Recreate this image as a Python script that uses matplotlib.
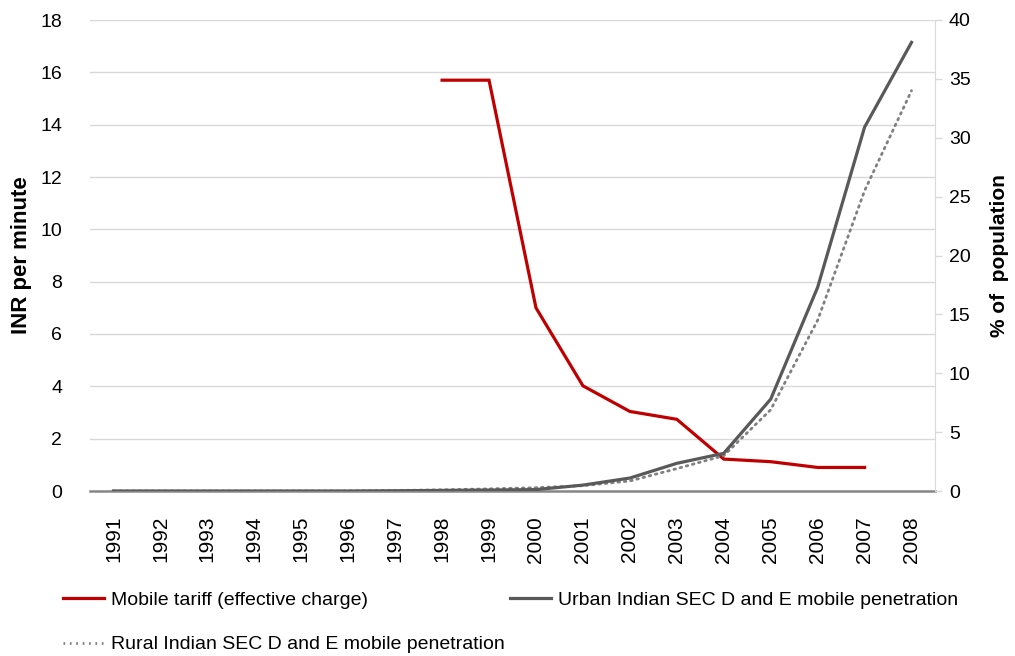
import numpy as np
import matplotlib.pyplot as plt
from matplotlib.lines import Line2D

plt.rcParams['font.family'] = ['Liberation Sans', 'DejaVu Sans']

years = [str(y) for y in range(1991, 2009)]

# INR per minute, only reported from 1998 to 2007
tariff_years = ['1998', '1999', '2000', '2001', '2002', '2003', '2004', '2005', '2006', '2007']
tariff = [15.7, 15.7, 7.0, 4.02, 3.04, 2.74, 1.22, 1.12, 0.9, 0.9]

# % of population
urban = [0.0, 0.0, 0.0, 0.0, 0.0, 0.0, 0.02, 0.05, 0.08, 0.12, 0.5, 1.1, 2.35, 3.2, 7.8, 17.3, 30.9, 38.1]
rural = [0.0, 0.0, 0.0, 0.0, 0.0, 0.0, 0.04, 0.1, 0.18, 0.28, 0.45, 0.85, 1.9, 3.0, 6.9, 14.5, 25.5, 34.0]

red = '#C00000'
dark = '#595959'
light = '#808080'
grid = '#D9D9D9'
dots = (0, (0.6, 1.7))

fig = plt.figure(figsize=(10.15, 6.56), dpi=100)
ax = fig.add_axes([90/1015, 1-491/656, 845/1015, 471/656])
ax2 = ax.twinx()

x = np.arange(len(years))
tx = np.array([years.index(t) for t in tariff_years])

ax.plot(tx, tariff, color=red, lw=2.3, solid_joinstyle='miter', zorder=3)
ax2.plot(x, urban, color=dark, lw=2.3, zorder=3)
ax2.plot(x, rural, color=light, lw=2.0, linestyle=dots,
         dash_capstyle='round', zorder=2)

ax.set_xlim(-0.5, len(years) - 0.5)
ax.set_ylim(0, 18)
ax.set_yticks(range(0, 19, 2))
ax2.set_ylim(0, 40)
ax2.set_yticks(range(0, 41, 5))

ax.yaxis.grid(True, color=grid, lw=1.0)
ax.set_axisbelow(True)
ax.set_xticks(x)
ax.set_xticklabels(years, rotation=90, fontsize=15)
ax.tick_params(axis='x', length=0, pad=18)
ax.tick_params(axis='y', length=0, pad=20, labelsize=14)
ax2.tick_params(axis='y', length=5, width=1, color=grid, pad=5, labelsize=14)

for s in ['top', 'left', 'right']:
    ax.spines[s].set_visible(False)
for s in ['top', 'left', 'bottom']:
    ax2.spines[s].set_visible(False)
ax2.spines['right'].set_color(grid)
ax.spines['bottom'].set_color('#868686')
ax.spines['bottom'].set_linewidth(1.8)

ax.set_ylabel('INR per minute', fontsize=16, fontweight='bold', labelpad=6)
ax2.set_ylabel('% of  population', fontsize=15, fontweight='bold', labelpad=14)

h1 = Line2D([], [], color=red, lw=2.3)
h2 = Line2D([], [], color=dark, lw=2.3)
h3 = Line2D([], [], color=light, lw=2.0, linestyle=dots)

leg_kw = dict(loc='upper left', frameon=False, fontsize=14, handlelength=2.1,
              handletextpad=0.35, labelspacing=1.4, borderpad=0, borderaxespad=0)
top = 1 - 591/656
leg1 = fig.legend([h1, h3], ['Mobile tariff (effective charge)',
                             'Rural Indian SEC D and E mobile penetration'],
                  bbox_to_anchor=(63/1015, top), **leg_kw)
leg2 = fig.legend([h2], ['Urban Indian SEC D and E mobile penetration'],
                  bbox_to_anchor=(510/1015, top), **leg_kw)

fig.savefig('out.png', dpi=100)
